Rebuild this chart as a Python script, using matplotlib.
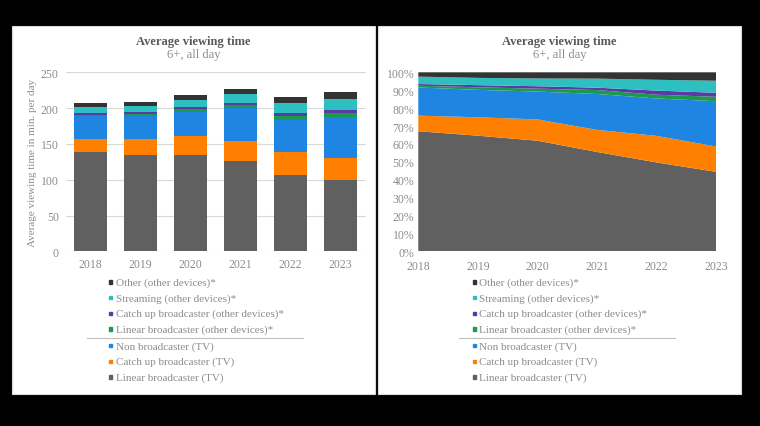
import matplotlib.pyplot as plt
from matplotlib.patches import Rectangle
from matplotlib.lines import Line2D
import numpy as np

years = [2018, 2019, 2020, 2021, 2022, 2023]

# minutes per day
linear_tv = [138.5, 135, 135, 126, 107, 99]
catchup_tv = [18, 21.5, 26, 28, 32, 31.5]
non_broadcaster_tv = [32.5, 32, 34, 45.5, 45, 56.5]
linear_other = [2, 3, 3.5, 5, 4.5, 5.5]
catchup_other = [2, 2.5, 3, 3, 5, 5]
streaming_other = [8.5, 8.5, 9.5, 11.5, 13, 15]
other_other = [5, 6.5, 7.5, 8, 9, 10.5]

labels = ['Linear broadcaster (TV)', 'Catch up broadcaster (TV)', 'Non broadcaster (TV)',
          'Linear broadcaster (other devices)*', 'Catch up broadcaster (other devices)*',
          'Streaming (other devices)*', 'Other (other devices)*']
colors = ['#606060', '#ff7f00', '#1e86e2', '#1a9a4a', '#5a3aa6', '#2ebfc0', '#333333']
series = [linear_tv, catchup_tv, non_broadcaster_tv, linear_other,
          catchup_other, streaming_other, other_other]

W, H = 760, 427
serif = ['Liberation Serif', 'DejaVu Serif']
title_c = '#595959'
tick_c = '#8c8c8c'

fig = plt.figure(figsize=(W / 100, H / 100), dpi=100, facecolor='black')


def px(x, y):
    return x / W, 1 - y / H


# white panels
for x0 in (12, 378):
    fig.patches.append(Rectangle(px(x0, 395), 363 / W, 368 / H, transform=fig.transFigure,
                                 facecolor='white', edgecolor='#d9d9d9', lw=0.8, zorder=-5))

# left: stacked bars
ax1 = fig.add_axes([65.7 / W, 1 - 252.3 / H, 300 / W, 179 / H])
ax1.set_zorder(2)
ax1.set_facecolor('none')
x = np.arange(len(years))
bottom = np.zeros(len(years))
for vals, c in zip(series, colors):
    ax1.bar(x, vals, bottom=bottom, width=0.667, color=c, zorder=3)
    bottom += np.array(vals)
ax1.set_xlim(-0.5, 5.5)
ax1.set_ylim(0, 250)
ax1.set_yticks(range(0, 251, 50))
ax1.set_xticks(x)
ax1.set_xticklabels(years)
ax1.grid(axis='y', color='#d9d9d9', lw=0.8, zorder=0)
for s in ax1.spines.values():
    s.set_visible(False)
ax1.tick_params(length=0, labelsize=8.5, labelcolor=tick_c, pad=5)
ax1.set_ylabel('Average viewing time in min. per day', fontsize=8, color=tick_c,
               family=serif, labelpad=3)

# right: 100% stacked area
ax2 = fig.add_axes([418.3 / W, 1 - 252.3 / H, 297.7 / W, 179 / H])
ax2.set_zorder(2)
ax2.set_facecolor('none')
tot = np.sum(series, axis=0)
shares = [np.array(v) / tot for v in series]
ax2.stackplot(years, shares, colors=colors, lw=0)
ax2.set_xlim(2018, 2023)
ax2.set_ylim(0, 1)
ax2.set_yticks(np.arange(0, 1.01, 0.1))
ax2.set_yticklabels([f'{int(round(v * 100))}%' for v in np.arange(0, 1.01, 0.1)])
ax2.set_xticks(years)
for s in ax2.spines.values():
    s.set_visible(False)
ax2.tick_params(length=0, labelsize=8.5, labelcolor=tick_c, pad=3)
ax2.tick_params(axis='x', pad=6)

for ax in (ax1, ax2):
    for lab in ax.get_xticklabels() + ax.get_yticklabels():
        lab.set_family(serif)

# titles and legends
order = [6, 5, 4, 3, 2, 1, 0]
ys = [283, 298.7, 314.3, 330, 346.7, 362.3, 378]
for cx, mx, lx0, lx1 in ((193.5, 110.7, 87, 303), (559.5, 474.3, 459, 675)):
    fig.text(*px(cx, 42), 'Average viewing time', ha='center', va='center',
             fontsize=9, fontweight='bold', color=title_c, family=serif)
    fig.text(*px(cx, 55), '6+, all day', ha='center', va='center',
             fontsize=9, color=tick_c, family=serif)
    for i, yy in zip(order, ys):
        fig.patches.append(Rectangle(px(mx - 1.6, yy + 1.6), 3.2 / W, 3.2 / H,
                                     transform=fig.transFigure, color=colors[i]))
        fig.text(*px(mx + 5, yy), labels[i], ha='left', va='center',
                 fontsize=8, color=tick_c, family=serif)
    fig.lines.append(Line2D([lx0 / W, lx1 / W], [1 - 338.7 / H] * 2,
                            transform=fig.transFigure, color='#bfbfbf', lw=0.8))

fig.savefig('out.png', dpi=100, facecolor='black')
